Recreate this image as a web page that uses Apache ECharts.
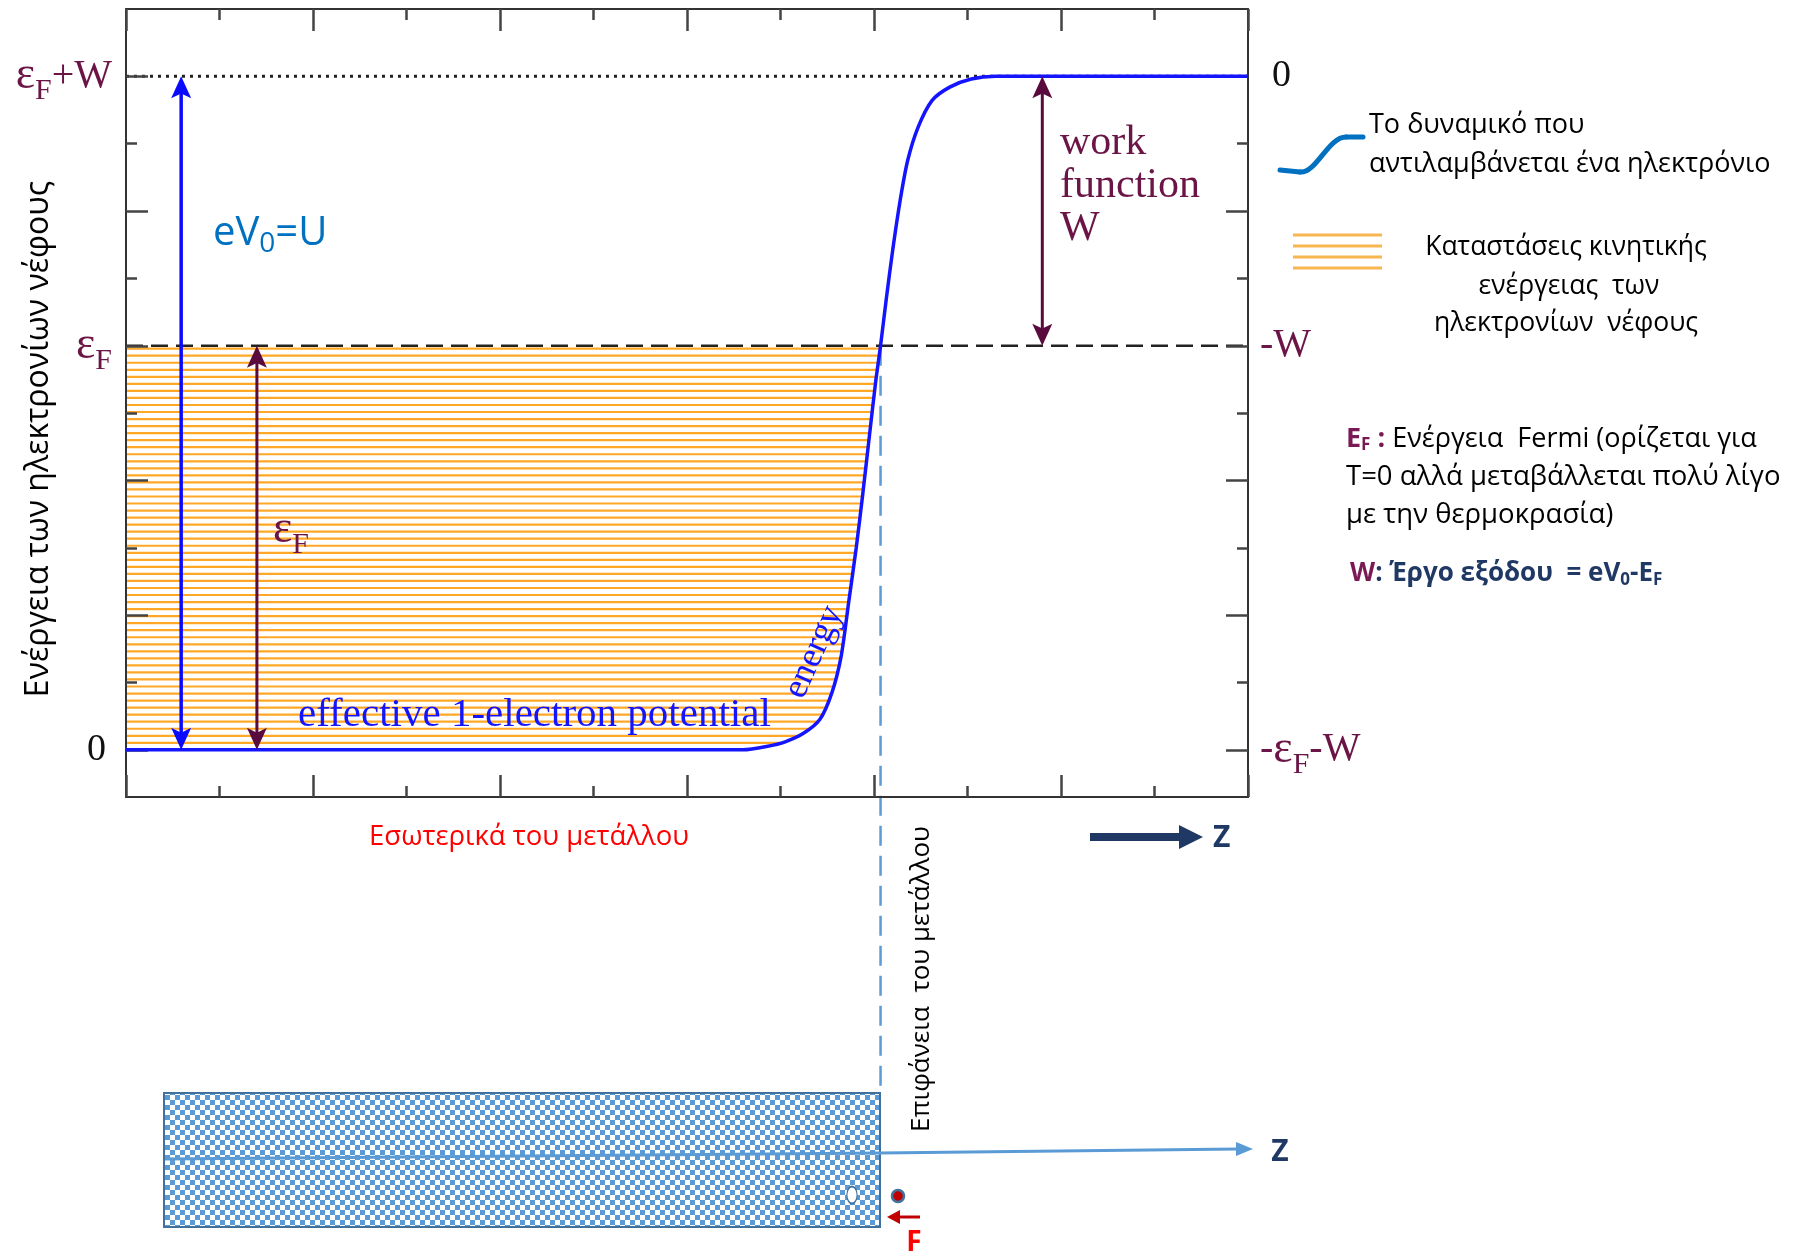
<!DOCTYPE html>
<html><head><meta charset="utf-8">
<script src="https://cdn.jsdelivr.net/npm/echarts@6/dist/echarts.min.js"></script>
<style>html,body{margin:0;padding:0;background:#fff;}#c{width:1810px;height:1254px;}</style>
</head><body><div id="c"></div>
<script>
// ---------------- data ----------------
const potentialX = [0, 6.6, 6.85, 7.05, 7.25, 7.42, 7.55, 7.65, 7.73, 7.81, 7.88, 7.95, 8.02, 8.07, 8.13, 8.2, 8.28, 8.36, 8.47, 8.62, 8.81, 9.04, 9.3, 12];
const potentialY = [0, 0, 0.05, 0.12, 0.25, 0.45, 0.85, 1.4, 2.2, 3.0, 3.8, 4.65, 5.49, 6.0, 6.68, 7.42, 8.16, 8.75, 9.24, 9.64, 9.84, 9.96, 10, 10];
const fermiLevel = 6;      // εF
const vacuumLevel = 10;    // εF + W
const surfaceX = 8.07;     // metal surface
const arrowX = [0.59, 1.4, 9.8];
const arrowFrom = [0, 0, 6];
const arrowTo = [10, 6, 10];
const majorTicks = [0, 2, 4, 6, 8, 10];
const minorTicks = [1, 3, 5, 7, 9];
const labelValues = [0, 6, 10];
const leftTickLabels = ['0', 'εF', 'εF+W'];
const rightTickLabels = ['-εF-W', '-W', '0'];

// ---------------- styling ----------------
const serif = '"Liberation Serif","DejaVu Serif",serif';
const sans = '"Open Sans","Noto Sans",sans-serif';
const maroon = '#6b1547';
const noteMaroon = '#7a1a55';
const navy = '#1f3864';
const arrowColors = ['#0a0aff', '#5a0b3d', '#5a0b3d'];
const hatchStep = 0.1045;

function curveXAt(y) {
  for (let i = 0; i < potentialY.length - 1; i++) {
    const y0 = potentialY[i], y1 = potentialY[i + 1];
    if (y1 > y0 && y >= y0 && y <= y1) return potentialX[i] + (y - y0) / (y1 - y0) * (potentialX[i + 1] - potentialX[i]);
  }
  return potentialX[potentialX.length - 1];
}
function toRich(label, zName) {
  if (label === '0') return '{' + zName + '|0}';
  return label.split('εF').map(s => s ? '{t|' + s + '}' : '').join('{e|ε}{f|F}');
}
const tickRich = {
  e: { fontFamily: serif, fontSize: 46, color: maroon, fill: maroon, verticalAlign: 'middle' },
  f: { fontFamily: serif, fontSize: 30, color: maroon, fill: maroon, verticalAlign: 'middle', padding: [30, 0, 0, 0] },
  t: { fontFamily: serif, fontSize: 40, color: maroon, fill: maroon, verticalAlign: 'middle' },
  zl: { fontFamily: serif, fontSize: 38, color: '#111', verticalAlign: 'middle', padding: [0, 6, 0, 0] },
  zr: { fontFamily: serif, fontSize: 38, color: '#111', verticalAlign: 'middle', padding: [0, 0, 0, 12] }
};
const lineStyleAxis = { color: '#333', width: 2 };
const tickStyle = { color: '#444', width: 2.5 };

function xAx(pos) {
  return { type: 'value', min: 0, max: 12, interval: 2, position: pos, z: 3,
    axisLine: { show: true, onZero: false, lineStyle: lineStyleAxis },
    axisTick: { show: true, inside: true, length: 22, lineStyle: tickStyle },
    minorTick: { show: true, splitNumber: 2, length: 11, lineStyle: tickStyle },
    axisLabel: { show: false }, splitLine: { show: false }, minorSplitLine: { show: false } };
}
function yAx(pos, ticks, len, labels) {
  const a = { type: 'value', min: -0.7, max: 11, position: pos, z: 3,
    axisLine: { show: !!labels, onZero: false, lineStyle: lineStyleAxis },
    axisTick: { show: true, inside: true, length: len, customValues: ticks, lineStyle: tickStyle },
    splitLine: { show: false }, axisLabel: { show: false } };
  if (labels) {
    const zName = pos === 'left' ? 'zl' : 'zr';
    a.axisLabel = { show: true, customValues: labelValues, margin: pos === 'left' ? 14 : 12,
      formatter: v => toRich(labels[labelValues.indexOf(v)], zName), rich: tickRich };
  }
  return a;
}

function arrowHead(tip, dir, L, w, color) {
  const tx = tip[0], ty = tip[1], dx = dir[0], dy = dir[1], px = -dy, py = dx;
  return { type: 'polygon', shape: { points: [[tx, ty], [tx - dx * L + px * w, ty - dy * L + py * w],
    [tx - dx * L * 0.78, ty - dy * L * 0.78], [tx - dx * L - px * w, ty - dy * L - py * w]] },
    style: { fill: color } };
}

// checker pattern for the metal block
const pc = document.createElement('canvas');
pc.width = 10; pc.height = 10;
const pctx = pc.getContext('2d');
pctx.fillStyle = '#ffffff'; pctx.fillRect(0, 0, 10, 10);
pctx.fillStyle = '#5b9bd5'; pctx.fillRect(0, 0, 5, 5); pctx.fillRect(5, 5, 5, 5);

function txt(x, y, text, size, color, align, extra) {
  return Object.assign({ type: 'text', x: x, y: y, z: 10,
    style: { text: text, fontFamily: sans, fontSize: size, fill: color,
      align: align, verticalAlign: 'middle', textAlign: align, textVerticalAlign: 'middle' } }, extra || {});
}
function rtxt(x, y, text, rich, align) {
  return { type: 'text', x: x, y: y, z: 10,
    style: { text: text, align: align || 'left', verticalAlign: 'middle', textAlign: align || 'left', textVerticalAlign: 'middle', rich: rich } };
}
function serifTxt(x, y, text, size, color, extra) {
  return Object.assign({ type: 'text', x: x, y: y, z: 10,
    style: { text: text, fontFamily: serif, fontSize: size, fill: color,
      align: 'left', verticalAlign: 'middle', textAlign: 'left', textVerticalAlign: 'middle' } }, extra || {});
}

const chart = echarts.init(document.getElementById('c'));
const option = {
  animation: false,
  backgroundColor: '#ffffff',
  grid: { left: 126, right: 562, top: 9, bottom: 457, containLabel: false },
  xAxis: [xAx('bottom'), xAx('top')],
  yAxis: [yAx('left', majorTicks, 22, leftTickLabels), yAx('left', minorTicks, 11, null),
          yAx('right', majorTicks, 22, rightTickLabels), yAx('right', minorTicks, 11, null)],
  series: [
    { name: 'hatch', type: 'custom', z: 1, silent: true, data: [[0, 0]],
      renderItem: (params, api) => {
        const children = [];
        for (let k = 1; k * hatchStep < fermiLevel; k++) {
          const y = k * hatchStep;
          const p1 = api.coord([0, y]), p2 = api.coord([curveXAt(y), y]);
          children.push({ type: 'line', shape: { x1: p1[0], y1: p1[1], x2: p2[0], y2: p2[1] },
            style: { stroke: '#ffa726', lineWidth: 2.2 } });
        }
        return { type: 'group', children };
      } },
    { name: 'fermi', type: 'line', z: 2, symbol: 'none', silent: true,
      data: [[0, fermiLevel], [12, fermiLevel]],
      lineStyle: { color: '#222', width: 2.5, type: [17, 8] } },
    { name: 'vacuum', type: 'line', z: 2, symbol: 'none', silent: true,
      data: [[0, vacuumLevel], [12, vacuumLevel]],
      lineStyle: { color: '#222', width: 3, type: [3, 5] } },
    { name: 'surface', type: 'custom', z: 3, silent: true, data: [[surfaceX, fermiLevel]],
      renderItem: (params, api) => {
        const p = api.coord([api.value(0), api.value(1)]);
        return { type: 'line', shape: { x1: p[0], y1: p[1], x2: p[0], y2: 1092 },
          style: { stroke: '#5b9bd5', lineWidth: 2.5, lineDash: [20, 10] } };
      } },
    { name: 'potential', type: 'line', z: 4, symbol: 'none', silent: true,
      smooth: 0.25,
      data: potentialX.map((x, i) => [x, potentialY[i]]),
      lineStyle: { color: '#1414ff', width: 3.5 } },
    { name: 'arrows', type: 'custom', z: 5, silent: true,
      data: arrowX.map((x, i) => [x, arrowFrom[i], arrowTo[i], i]),
      renderItem: (params, api) => {
        const x = api.value(0), idx = api.value(3);
        const a = api.coord([x, api.value(1)]), b = api.coord([x, api.value(2)]);
        const color = arrowColors[idx], lw = idx === 0 ? 3.5 : 3;
        const len = Math.hypot(b[0] - a[0], b[1] - a[1]);
        const d = [(b[0] - a[0]) / len, (b[1] - a[1]) / len];
        const L = 22, w = 10;
        return { type: 'group', children: [
          { type: 'line', shape: { x1: a[0] + d[0] * L * 0.7, y1: a[1] + d[1] * L * 0.7,
              x2: b[0] - d[0] * L * 0.7, y2: b[1] - d[1] * L * 0.7 }, style: { stroke: color, lineWidth: lw } },
          arrowHead(b, d, L, w, color),
          arrowHead(a, [-d[0], -d[1]], L, w, color)
        ] };
      } }
  ],
  graphic: [
    txt(39, 439, 'Ενέργεια των ηλεκτρονίων νέφους', 32, '#000', 'center', { rotation: Math.PI / 2 }),
    rtxt(213, 234, '{a|eV}{s|0}{a|=U}', {
      a: { fontFamily: sans, fontSize: 40, fill: '#0070c0', verticalAlign: 'middle' },
      s: { fontFamily: sans, fontSize: 28, fill: '#0070c0', verticalAlign: 'middle', padding: [20, 0, 0, 0] } }),
    { type: 'text', x: 1060, y: 121, z: 10,
      style: { text: 'work\nfunction\nW', fontFamily: serif, fontSize: 42, lineHeight: 43, fill: maroon,
        align: 'left', verticalAlign: 'top', textAlign: 'left', textVerticalAlign: 'top' } },
    rtxt(273, 530, '{e|ε}{f|F}', tickRich),
    serifTxt(298, 715, 'effective 1-electron potential', 41, '#1414ff'),
    Object.assign(serifTxt(814, 652, 'energy', 36, '#1414ff', { rotation: 1.15 }), {}),
    txt(529, 837, 'Εσωτερικά του μετάλλου', 27.5, '#ff0000', 'center'),
    txt(922, 979, 'Επιφάνεια  του μετάλλου', 26, '#000', 'center', { rotation: Math.PI / 2 }),
    // navy z arrow
    { type: 'polygon', shape: { points: [[1090, 833], [1179, 833], [1179, 825], [1203, 837], [1179, 849], [1179, 841], [1090, 841]] },
      style: { fill: navy } },
    { type: 'text', x: 1213, y: 838,
      style: { text: 'Z', fontFamily: sans, fontSize: 30, fontWeight: 'bold', fill: navy,
        align: 'left', verticalAlign: 'middle', textAlign: 'left', textVerticalAlign: 'middle' } },
    // legend: potential
    { type: 'line', shape: { x1: 1280, y1: 170, x2: 1300, y2: 172 }, style: { stroke: '#0070c0', lineWidth: 5, lineCap: 'round' } },
    { type: 'bezierCurve', shape: { x1: 1300, y1: 172, cpx1: 1316, cpy1: 174, cpx2: 1328, cpy2: 137, x2: 1346, y2: 137 },
      style: { stroke: '#0070c0', lineWidth: 5, fill: null, lineCap: 'round' } },
    { type: 'line', shape: { x1: 1346, y1: 137, x2: 1363, y2: 137 }, style: { stroke: '#0070c0', lineWidth: 5, lineCap: 'round' } },
    txt(1369, 125, 'Το δυναμικό που', 27, '#000', 'left'),
    txt(1369, 164, 'αντιλαμβάνεται ένα ηλεκτρόνιο', 27, '#000', 'left'),
    // legend: states
    { type: 'line', shape: { x1: 1293, y1: 235, x2: 1382, y2: 235 }, style: { stroke: '#f8b651', lineWidth: 3 } },
    { type: 'line', shape: { x1: 1293, y1: 246, x2: 1382, y2: 246 }, style: { stroke: '#f8b651', lineWidth: 3 } },
    { type: 'line', shape: { x1: 1293, y1: 257, x2: 1382, y2: 257 }, style: { stroke: '#f8b651', lineWidth: 3 } },
    { type: 'line', shape: { x1: 1293, y1: 268, x2: 1382, y2: 268 }, style: { stroke: '#f8b651', lineWidth: 3 } },
    txt(1566, 247, 'Καταστάσεις κινητικής', 26.5, '#000', 'center'),
    txt(1569, 286, 'ενέργειας  των', 26.5, '#000', 'center'),
    txt(1566, 323, 'ηλεκτρονίων  νέφους', 26.5, '#000', 'center'),
    // Fermi note
    rtxt(1346, 439, '{b|E}{bs|F}{b| :}{n| Ενέργεια  Fermi (ορίζεται για}', {
      b: { fontFamily: sans, fontSize: 27, fontWeight: 'bold', fill: noteMaroon, verticalAlign: 'middle' },
      bs: { fontFamily: sans, fontSize: 17, fontWeight: 'bold', fill: noteMaroon, verticalAlign: 'middle', padding: [12, 0, 0, 0] },
      n: { fontFamily: sans, fontSize: 27, fill: '#000', verticalAlign: 'middle' } }),
    txt(1346, 477, 'T=0 αλλά μεταβάλλεται πολύ λίγο', 27.5, '#000', 'left'),
    txt(1346, 515, 'με την θερμοκρασία)', 27.5, '#000', 'left'),
    rtxt(1350, 574, '{w|W}{n|: Έργο εξόδου  = eV}{s|0}{n|-E}{s|F}', {
      w: { fontFamily: sans, fontSize: 26, fontWeight: 'bold', fill: noteMaroon, verticalAlign: 'middle' },
      n: { fontFamily: sans, fontSize: 26, fontWeight: 'bold', fill: navy, verticalAlign: 'middle' },
      s: { fontFamily: sans, fontSize: 17, fontWeight: 'bold', fill: navy, verticalAlign: 'middle', padding: [12, 0, 0, 0] } }),
    // metal block schematic
    { type: 'rect', shape: { x: 164, y: 1093, width: 716, height: 134 },
      style: { fill: { image: pc, repeat: 'repeat' }, stroke: '#41719c', lineWidth: 2 } },
    { type: 'polyline', shape: { points: [[165, 1159], [880, 1153], [1238, 1149]] },
      style: { stroke: '#5b9bd5', lineWidth: 3, fill: null } },
    { type: 'polygon', shape: { points: [[1253, 1149], [1236, 1142], [1236, 1156]] }, style: { fill: '#5b9bd5' } },
    { type: 'text', x: 1280, y: 1152,
      style: { text: 'Z', fontFamily: sans, fontSize: 30, fontWeight: 'bold', fill: navy,
        align: 'center', verticalAlign: 'middle', textAlign: 'center', textVerticalAlign: 'middle' } },
    { type: 'circle', x: 852, y: 1195, scaleX: 0.6, shape: { cx: 0, cy: 0, r: 8.5 }, style: { fill: '#ffffff', stroke: '#41719c', lineWidth: 1.8 } },
    { type: 'circle', shape: { cx: 898, cy: 1196, r: 6 }, style: { fill: '#c00000', stroke: '#41719c', lineWidth: 2.5 } },
    { type: 'line', shape: { x1: 920, y1: 1217, x2: 897, y2: 1217 }, style: { stroke: '#c00000', lineWidth: 3 } },
    { type: 'polygon', shape: { points: [[887, 1217], [900, 1210], [900, 1224]] }, style: { fill: '#c00000' } },
    { type: 'text', x: 914, y: 1243,
      style: { text: 'F', fontFamily: sans, fontSize: 28, fontWeight: 'bold', fill: '#ff0000',
        align: 'center', verticalAlign: 'middle', textAlign: 'center', textVerticalAlign: 'middle' } }
  ]
};
// energy label is centred on its point
option.graphic[5].style.align = 'center';
option.graphic[5].style.textAlign = 'center';
chart.setOption(option);
</script>
</body></html>
